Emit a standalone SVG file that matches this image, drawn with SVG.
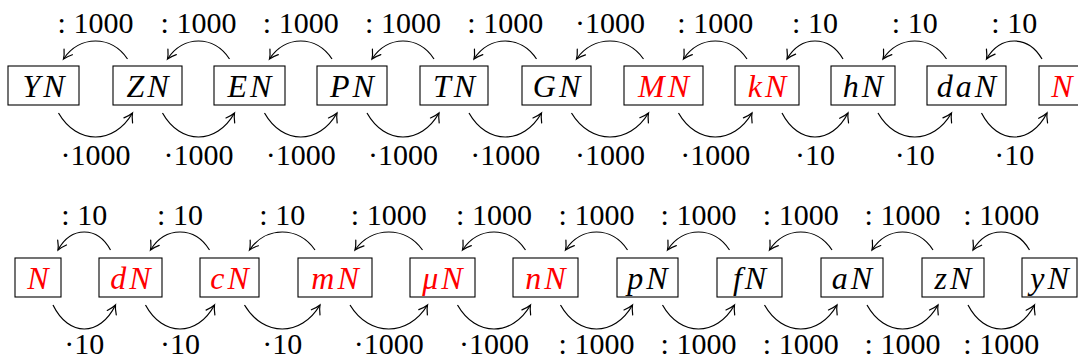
<svg xmlns="http://www.w3.org/2000/svg" width="1078" height="360" viewBox="0 0 1078 360">
<style>
.box{fill:#fff;stroke:#000;stroke-width:1.1}
.nt{font-family:"Liberation Serif",serif;font-style:italic;font-size:32px;text-anchor:middle;letter-spacing:3px}
.red{fill:#ff0000}
.blk{fill:#000}
.lb{font-family:"Liberation Serif",serif;font-size:30px;text-anchor:middle;fill:#000}
.ar{fill:none;stroke:#000;stroke-width:1.2;marker-end:url(#ah)}
</style>
<defs>
<marker id="ah" markerUnits="userSpaceOnUse" viewBox="-10 -6 12 12" markerWidth="12" markerHeight="12" refX="0" refY="0" orient="auto" overflow="visible">
<path d="M-8.5,-5 Q-3.5,-1.2 0,0 Q-3.5,1.2 -8.5,5" fill="none" stroke="#000" stroke-width="1.2" stroke-linecap="round"/>
</marker>
</defs>
<g id="connectors">
<path class="ar" d="M127.5,59 C111.5,35 79.5,35 63.5,59"/>
<path class="ar" d="M229.5,59 C214,35 183,35 167.5,59"/>
<path class="ar" d="M332,59 C316.4,35 285.1,35 269.5,59"/>
<path class="ar" d="M434,59 C418.5,35 387.5,35 372,59"/>
<path class="ar" d="M536.5,59 C520.9,35 489.6,35 474,59"/>
<path class="ar" d="M643.5,59 C626.75,35 593.25,35 576.5,59"/>
<path class="ar" d="M747,59 C731.1,35 699.4,35 683.5,59"/>
<path class="ar" d="M843,59 C829,35 801,35 787,59"/>
<path class="ar" d="M946.5,59 C930.6,35 898.9,35 883,59"/>
<path class="ar" d="M1042,59 C1028.1,35 1000.4,35 986.5,59"/>
<path class="ar" d="M58.5,113 C77,145 114,145 132.5,113"/>
<path class="ar" d="M162.5,113 C180.5,145 216.5,145 234.5,113"/>
<path class="ar" d="M264.5,113 C282.6,145 318.9,145 337,113"/>
<path class="ar" d="M367,113 C385,145 421,145 439,113"/>
<path class="ar" d="M469,113 C487.1,145 523.4,145 541.5,113"/>
<path class="ar" d="M571.5,113 C590.75,145 629.25,145 648.5,113"/>
<path class="ar" d="M678.5,113 C696.9,145 733.6,145 752,113"/>
<path class="ar" d="M782,113 C798.5,145 831.5,145 848,113"/>
<path class="ar" d="M878,113 C896.4,145 933.1,145 951.5,113"/>
<path class="ar" d="M981.5,113 C997.9,145 1030.6,145 1047,113"/>
<path class="ar" d="M110.5,250 C97.4,226 71.1,226 58,250"/>
<path class="ar" d="M209.5,250 C194.75,226 165.25,226 150.5,250"/>
<path class="ar" d="M315,250 C298.6,226 265.9,226 249.5,250"/>
<path class="ar" d="M422.5,250 C405.6,226 371.9,226 355,250"/>
<path class="ar" d="M525.5,250 C509.75,226 478.25,226 462.5,250"/>
<path class="ar" d="M627.5,250 C612,226 581,226 565.5,250"/>
<path class="ar" d="M729.5,250 C714,226 683,226 667.5,250"/>
<path class="ar" d="M832,250 C816.4,226 785.1,226 769.5,250"/>
<path class="ar" d="M933,250 C917.75,226 887.25,226 872,250"/>
<path class="ar" d="M1029.5,250 C1015.4,226 987.1,226 973,250"/>
<path class="ar" d="M53,305 C68.6,337 99.9,337 115.5,305"/>
<path class="ar" d="M145.5,305 C162.75,337 197.25,337 214.5,305"/>
<path class="ar" d="M244.5,305 C263.4,337 301.1,337 320,305"/>
<path class="ar" d="M350,305 C369.4,337 408.1,337 427.5,305"/>
<path class="ar" d="M457.5,305 C475.75,337 512.25,337 530.5,305"/>
<path class="ar" d="M560.5,305 C578.5,337 614.5,337 632.5,305"/>
<path class="ar" d="M662.5,305 C680.5,337 716.5,337 734.5,305"/>
<path class="ar" d="M764.5,305 C782.6,337 818.9,337 837,305"/>
<path class="ar" d="M867,305 C884.75,337 920.25,337 938,305"/>
<path class="ar" d="M968,305 C984.6,337 1017.9,337 1034.5,305"/>
</g>
<g id="labels">
<text class="lb" x="95.5" y="33">: 1000</text>
<text class="lb" x="198.5" y="33">: 1000</text>
<text class="lb" x="300.75" y="33">: 1000</text>
<text class="lb" x="403" y="33">: 1000</text>
<text class="lb" x="505.25" y="33">: 1000</text>
<text class="lb" x="610" y="33">·1000</text>
<text class="lb" x="715.25" y="33">: 1000</text>
<text class="lb" x="815" y="33">: 10</text>
<text class="lb" x="914.75" y="33">: 10</text>
<text class="lb" x="1014.25" y="33">: 10</text>
<text class="lb" x="95.5" y="165">·1000</text>
<text class="lb" x="198.5" y="165">·1000</text>
<text class="lb" x="300.75" y="165">·1000</text>
<text class="lb" x="403" y="165">·1000</text>
<text class="lb" x="505.25" y="165">·1000</text>
<text class="lb" x="610" y="165">·1000</text>
<text class="lb" x="715.25" y="165">·1000</text>
<text class="lb" x="815" y="165">·10</text>
<text class="lb" x="914.75" y="165">·10</text>
<text class="lb" x="1014.25" y="165">·10</text>
<text class="lb" x="84.25" y="225">: 10</text>
<text class="lb" x="180" y="225">: 10</text>
<text class="lb" x="282.25" y="225">: 10</text>
<text class="lb" x="388.75" y="225">: 1000</text>
<text class="lb" x="494" y="225">: 1000</text>
<text class="lb" x="596.5" y="225">: 1000</text>
<text class="lb" x="698.5" y="225">: 1000</text>
<text class="lb" x="800.75" y="225">: 1000</text>
<text class="lb" x="902.5" y="225">: 1000</text>
<text class="lb" x="1001.25" y="225">: 1000</text>
<text class="lb" x="84.25" y="354">·10</text>
<text class="lb" x="180" y="354">·10</text>
<text class="lb" x="282.25" y="354">·10</text>
<text class="lb" x="388.75" y="354">·1000</text>
<text class="lb" x="494" y="354">·1000</text>
<text class="lb" x="596.5" y="354">: 1000</text>
<text class="lb" x="698.5" y="354">: 1000</text>
<text class="lb" x="800.75" y="354">: 1000</text>
<text class="lb" x="902.5" y="354">: 1000</text>
<text class="lb" x="1001.25" y="354">: 1000</text>
</g>
<g id="n-YN"><rect class="box" x="8" y="66" width="71" height="39"/><text class="nt blk" x="45" y="97">YN</text></g>
<g id="n-ZN"><rect class="box" x="113" y="66" width="69" height="39"/><text class="nt blk" x="149" y="97">ZN</text></g>
<g id="n-EN"><rect class="box" x="214" y="66" width="71" height="39"/><text class="nt blk" x="251" y="97">EN</text></g>
<g id="n-PN"><rect class="box" x="317" y="66" width="70" height="39"/><text class="nt blk" x="353.5" y="97">PN</text></g>
<g id="n-TN"><rect class="box" x="420" y="66" width="68" height="39"/><text class="nt blk" x="455.5" y="97">TN</text></g>
<g id="n-GN"><rect class="box" x="522" y="66" width="69" height="39"/><text class="nt blk" x="558" y="97">GN</text></g>
<g id="n-MN"><rect class="box" x="624" y="66" width="79" height="39"/><text class="nt red" x="665" y="97">MN</text></g>
<g id="n-kN"><rect class="box" x="735" y="66" width="64" height="39"/><text class="nt red" x="768.5" y="97">kN</text></g>
<g id="n-hN"><rect class="box" x="831" y="66" width="64" height="39"/><text class="nt blk" x="864.5" y="97">hN</text></g>
<g id="n-daN"><rect class="box" x="927" y="66" width="79" height="39"/><text class="nt blk" x="968" y="97">daN</text></g>
<g id="n-N1"><rect class="box" x="1039" y="66" width="46" height="39"/><text class="nt red" x="1063.5" y="97">N</text></g>
<g id="n-N2"><rect class="box" x="15" y="258" width="46" height="39"/><text class="nt red" x="39.5" y="289">N</text></g>
<g id="n-dN"><rect class="box" x="99" y="258" width="63" height="39"/><text class="nt red" x="132" y="289">dN</text></g>
<g id="n-cN"><rect class="box" x="200" y="258" width="59" height="39"/><text class="nt red" x="231" y="289">cN</text></g>
<g id="n-mN"><rect class="box" x="298" y="258" width="74" height="39"/><text class="nt red" x="336.5" y="289">mN</text></g>
<g id="n-uN"><rect class="box" x="410" y="258" width="65" height="39"/><text class="nt red" x="444" y="289">μN</text></g>
<g id="n-nN"><rect class="box" x="513" y="258" width="65" height="39"/><text class="nt red" x="547" y="289">nN</text></g>
<g id="n-pN"><rect class="box" x="617" y="258" width="61" height="39"/><text class="nt blk" x="649" y="289">pN</text></g>
<g id="n-fN"><rect class="box" x="717" y="258" width="65" height="39"/><text class="nt blk" x="751" y="289">fN</text></g>
<g id="n-aN"><rect class="box" x="821" y="258" width="62" height="39"/><text class="nt blk" x="853.5" y="289">aN</text></g>
<g id="n-zN"><rect class="box" x="922" y="258" width="62" height="39"/><text class="nt blk" x="954.5" y="289">zN</text></g>
<g id="n-yN"><rect class="box" x="1022" y="258" width="55" height="39"/><text class="nt blk" x="1051" y="289">yN</text></g>
</svg>
